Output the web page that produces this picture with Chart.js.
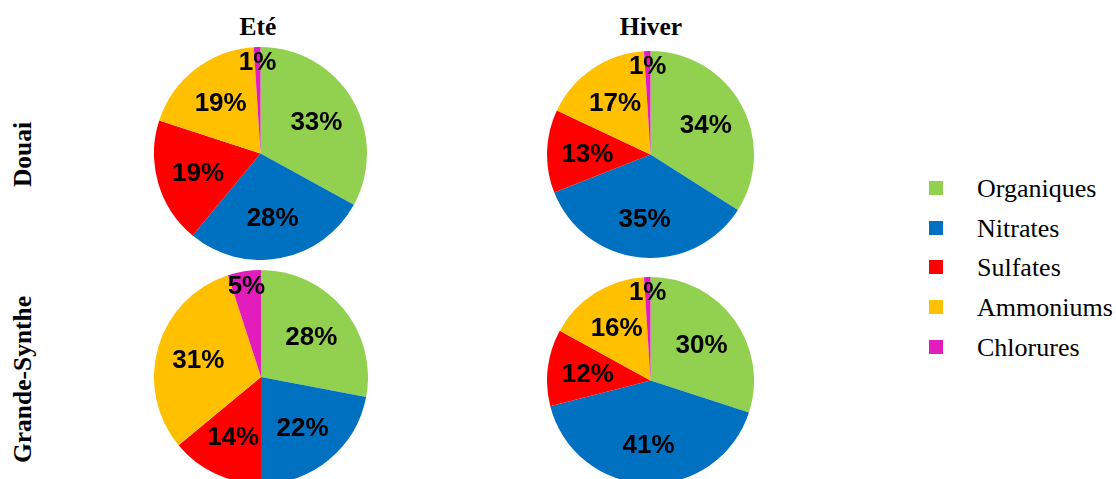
<!DOCTYPE html>
<html><head><meta charset="utf-8">
<script src="https://cdn.jsdelivr.net/npm/chart.js@4/dist/chart.umd.min.js"></script>
<style>
html,body{margin:0;padding:0;background:#fff;width:1116px;height:479px;overflow:hidden;position:relative;}
.t{position:absolute;font-family:"Liberation Serif","Times New Roman",serif;font-weight:bold;font-size:25.5px;line-height:25px;color:#000;white-space:nowrap;text-align:center;}
.r{position:absolute;font-family:"Liberation Serif","Times New Roman",serif;font-weight:bold;font-size:25.5px;line-height:25px;color:#000;white-space:nowrap;text-align:center;width:300px;transform:rotate(-90deg);}
canvas{position:absolute;}
#legend{position:absolute;left:929px;top:0;}
.li{position:absolute;left:0;height:25px;white-space:nowrap;font-family:"Liberation Serif","Times New Roman",serif;font-size:26px;line-height:25px;color:#000;}
.sw{position:absolute;left:0;top:5px;width:14px;height:14px;}
.lt{position:absolute;left:48px;top:0;}
</style></head>
<body>
<div class="t" style="left:158px;width:200px;top:14px;">Eté</div>
<div class="t" style="left:551px;width:200px;top:14px;">Hiver</div>
<div class="r" style="left:-128px;top:142px;">Douai</div>
<div class="r" style="left:-128px;top:367px;">Grande-Synthe</div>
<canvas id="c1" width="213" height="213" style="left:154px;top:47px;"></canvas>
<canvas id="c2" width="207" height="207" style="left:547px;top:51px;"></canvas>
<canvas id="c3" width="214" height="214" style="left:154px;top:270px;"></canvas>
<canvas id="c4" width="207" height="207" style="left:547px;top:277px;"></canvas>
<div id="legend"></div>
<script>
const categories = ["Organiques","Nitrates","Sulfates","Ammoniums","Chlorures"];
const colors = ["#92D050","#0070C0","#FF0000","#FFC000","#E21DBB"];
const douaiEte = [33,28,19,19,1];
const douaiHiver = [34,35,13,17,1];
const gsEte = [28,22,14,31,5];
const gsHiver = [30,41,12,16,1];

const labelPlugin = {
  id:'pctLabels',
  afterDatasetsDraw(chart){
    const ctx = chart.ctx;
    const meta = chart.getDatasetMeta(0);
    const data = chart.data.datasets[0].data;
    ctx.save();
    ctx.font = 'bold 26px "Liberation Sans", Arial, sans-serif';
    ctx.fillStyle = '#000';
    ctx.textAlign = 'center';
    ctx.textBaseline = 'middle';
    meta.data.forEach((arc,i)=>{
      const p = arc.getProps(['x','y','startAngle','endAngle','outerRadius'],true);
      const mid = (p.startAngle+p.endAngle)/2;
      const f = data[i] < 6 ? 0.87 : 0.61;
      const rr = p.outerRadius*f;
      ctx.fillText(Math.round(data[i])+'%', p.x+Math.cos(mid)*rr, p.y+Math.sin(mid)*rr+2);
    });
    ctx.restore();
  }
};

function makePie(id, values){
  new Chart(document.getElementById(id), {
    type:'pie',
    data:{labels:categories, datasets:[{data:values, backgroundColor:colors, borderWidth:0}]},
    options:{
      responsive:false, animation:false,
      layout:{padding:0},
      plugins:{legend:{display:false}, tooltip:{enabled:false}}
    },
    plugins:[labelPlugin]
  });
}
makePie('c1', douaiEte);
makePie('c2', douaiHiver);
makePie('c3', gsEte);
makePie('c4', gsHiver);

const lg = document.getElementById('legend');
const legendY = [176,216,255,295,335];
categories.forEach((c,i)=>{
  const d = document.createElement('div');
  d.className='li'; d.style.top = legendY[i]+'px';
  d.innerHTML = '<div class="sw" style="background:'+colors[i]+'"></div><div class="lt">'+c+'</div>';
  lg.appendChild(d);
});
</script>
</body></html>
